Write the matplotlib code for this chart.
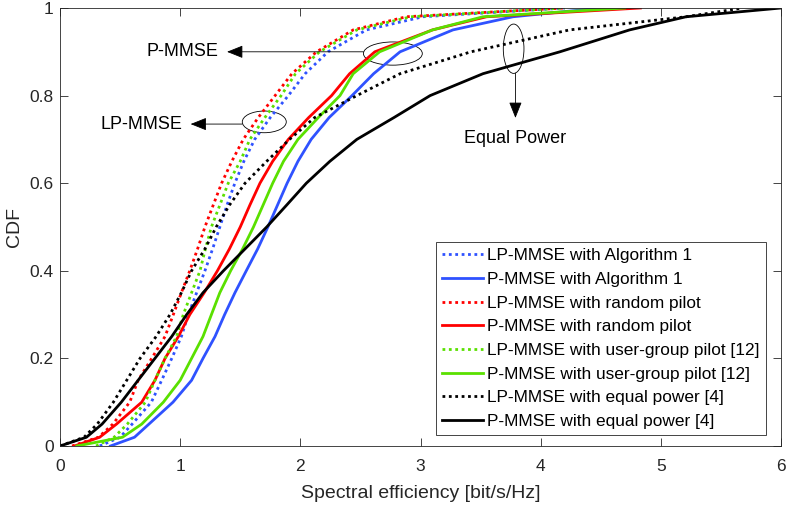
import matplotlib
matplotlib.use("Agg")
import matplotlib.pyplot as plt
from matplotlib.patches import Ellipse

plt.rcParams['font.family'] = ['Liberation Sans', 'DejaVu Sans']

# CDF levels and the spectral efficiency read at each level
cdf_levels = [0, 0.02, 0.05, 0.1, 0.15, 0.2, 0.25, 0.3, 0.35, 0.4, 0.45, 0.5,
              0.55, 0.6, 0.65, 0.7, 0.75, 0.8, 0.85, 0.9, 0.95, 0.98, 1.0]

lp_alg1 = [0.33, 0.50, 0.60, 0.76, 0.846, 0.93, 1.01, 1.068, 1.137, 1.206, 1.27, 1.33,
           1.39, 1.455, 1.53, 1.62, 1.75, 1.90, 2.04, 2.23, 2.55, 3.02, 4.20]
p_alg1 = [0.42, 0.62, 0.74, 0.94, 1.095, 1.19, 1.29, 1.37, 1.456, 1.55, 1.645, 1.73,
          1.81, 1.89, 1.98, 2.09, 2.24, 2.43, 2.61, 2.83, 3.27, 3.77, 4.50]
lp_rand = [0.10, 0.32, 0.44, 0.58, 0.65, 0.763, 0.874, 0.943, 1.01, 1.08, 1.145, 1.206,
           1.275, 1.345, 1.43, 1.525, 1.65, 1.79, 1.93, 2.135, 2.44, 2.88, 4.20]
p_rand = [0.12, 0.33, 0.47, 0.68, 0.79, 0.874, 0.985, 1.08, 1.20, 1.31, 1.41, 1.50,
          1.58, 1.664, 1.77, 1.90, 2.07, 2.26, 2.41, 2.62, 3.10, 3.55, 4.83]
lp_ug = [0.30, 0.45, 0.56, 0.71, 0.79, 0.874, 0.97, 1.026, 1.095, 1.165, 1.21, 1.26,
         1.33, 1.40, 1.50, 1.58, 1.705, 1.84, 1.96, 2.16, 2.47, 2.92, 4.20]
p_ug = [0.14, 0.52, 0.68, 0.86, 1.00, 1.095, 1.19, 1.26, 1.33, 1.42, 1.52, 1.61,
        1.69, 1.77, 1.86, 1.98, 2.15, 2.33, 2.44, 2.66, 3.10, 3.52, 4.70]
lp_eq = [0.00, 0.20, 0.31, 0.444, 0.555, 0.666, 0.80, 0.915, 1.01, 1.095, 1.206, 1.30,
         1.41, 1.54, 1.72, 1.91, 2.12, 2.47, 2.83, 3.42, 4.24, 5.21, 5.68]
p_eq = [0.00, 0.22, 0.35, 0.51, 0.65, 0.79, 0.93, 1.054, 1.19, 1.36, 1.54, 1.72,
        1.886, 2.05, 2.246, 2.47, 2.78, 3.08, 3.52, 4.16, 4.74, 5.21, 6.00]

labels = ['LP-MMSE with Algorithm 1', 'P-MMSE with Algorithm 1',
          'LP-MMSE with random pilot', 'P-MMSE with random pilot',
          'LP-MMSE with user-group pilot [12]', 'P-MMSE with user-group pilot [12]',
          'LP-MMSE with equal power [4]', 'P-MMSE with equal power [4]']

blue = '#2f52ff'
red = '#ff0000'
green = '#5ae000'
black = '#000000'
dot = (0, (1, 1.3))
axc = '#262626'

fig = plt.figure(figsize=(7.89, 5.07), dpi=100)
ax = fig.add_axes([60/789, 61/507, 721/789, 438/507])

series = [(lp_alg1, blue, dot), (p_alg1, blue, '-'),
          (lp_rand, red, dot), (p_rand, red, '-'),
          (lp_ug, green, dot), (p_ug, green, '-'),
          (lp_eq, black, dot), (p_eq, black, '-')]
for (xs, c, ls), lab in zip(series, labels):
    ax.plot(xs, cdf_levels, color=c, linestyle=ls, lw=2.0, label=lab)

ax.set_xlim(0, 6)
ax.set_ylim(0, 1)
ax.set_xticks([0, 1, 2, 3, 4, 5, 6])
ax.set_yticks([0, 0.2, 0.4, 0.6, 0.8, 1])
ax.set_yticklabels(['0', '0.2', '0.4', '0.6', '0.8', '1'])
ax.tick_params(direction='in', length=5.5, width=0.6, top=True, right=True,
               labelsize=12.5, colors=axc)
ax.tick_params(axis='x', pad=9.5)
ax.tick_params(axis='y', pad=4.5)
for s in ax.spines.values():
    s.set_color(axc)
    s.set_linewidth(0.6)
ax.set_xlabel('Spectral efficiency [bit/s/Hz]', fontsize=14, color=axc, labelpad=8)
ax.set_ylabel('CDF', fontsize=14, color=axc, labelpad=5)

leg = ax.legend(loc='lower right', bbox_to_anchor=(0.979, 0.025), borderaxespad=0,
                fontsize=12.4, handlelength=2.4, handletextpad=0.25, labelspacing=0.5,
                fancybox=False, framealpha=1, borderpad=0.35)
leg.get_frame().set_edgecolor(axc)
leg.get_frame().set_linewidth(0.6)

# annotations
arrow = dict(arrowstyle='-|>,head_length=0.55,head_width=0.22', color='k',
             lw=0.6, mutation_scale=18, shrinkA=0, shrinkB=0)

ax.add_patch(Ellipse((2.77, 0.896), 0.49, 0.053, fill=False, lw=0.6, ec='k'))
ax.annotate('', xy=(1.39, 0.9), xytext=(2.525, 0.9), arrowprops=arrow)
ax.text(1.02, 0.9, 'P-MMSE', fontsize=13, ha='center', va='center')

ax.add_patch(Ellipse((1.70, 0.740), 0.366, 0.0495, fill=False, lw=0.6, ec='k'))
ax.annotate('', xy=(1.087, 0.735), xytext=(1.517, 0.735), arrowprops=arrow)
ax.text(0.68, 0.735, 'LP-MMSE', fontsize=13, ha='center', va='center')

ax.add_patch(Ellipse((3.775, 0.907), 0.172, 0.1126, fill=False, lw=0.6, ec='k'))
ax.annotate('', xy=(3.79, 0.749), xytext=(3.79, 0.851), arrowprops=arrow)
ax.text(3.79, 0.703, 'Equal Power', fontsize=13, ha='center', va='center')

fig.savefig('out.png', dpi=100)
